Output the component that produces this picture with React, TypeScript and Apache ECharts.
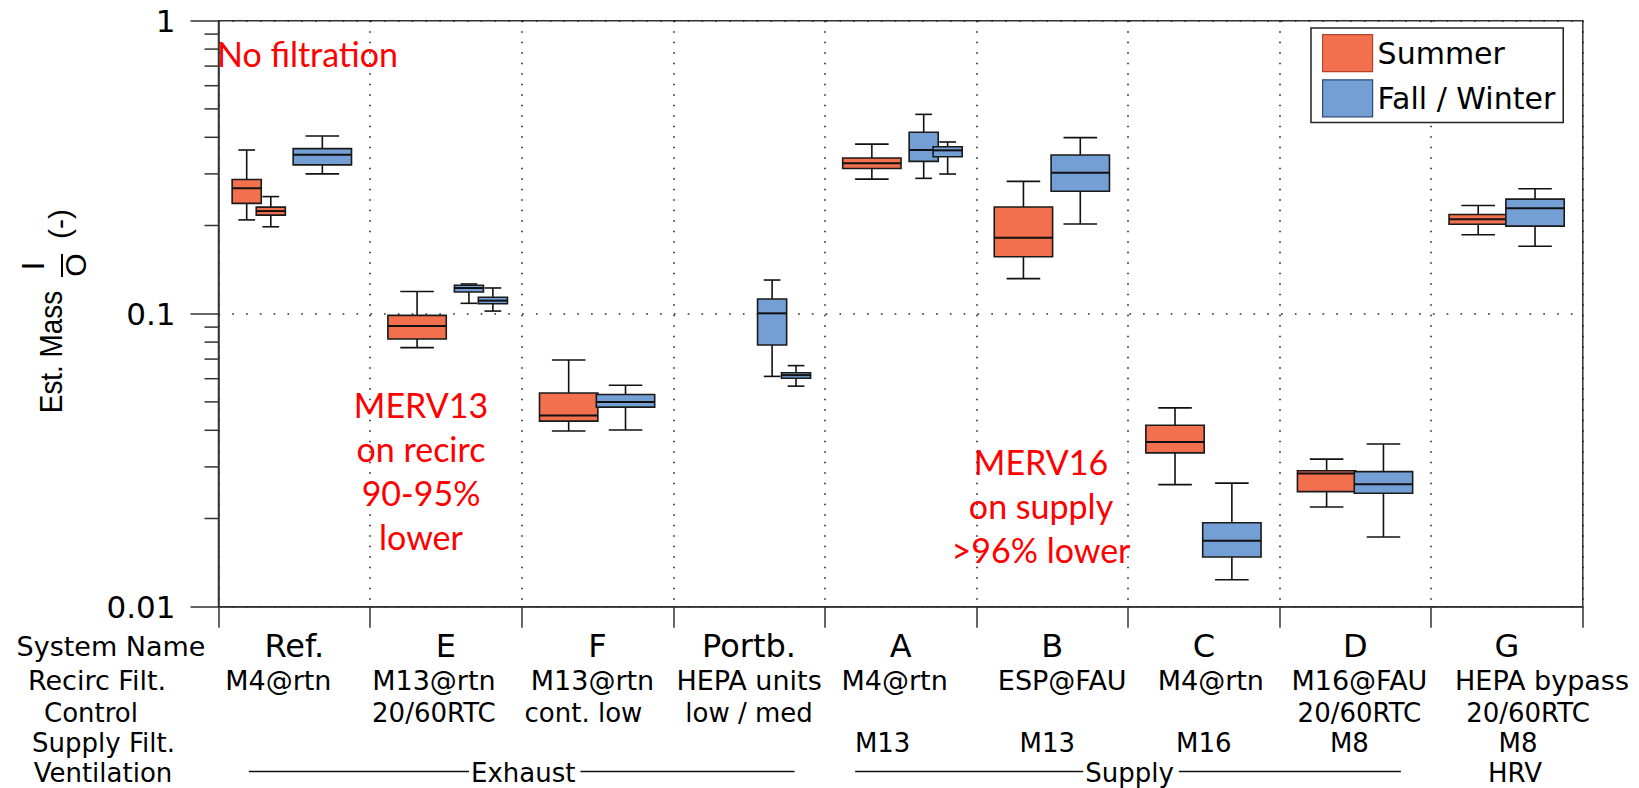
import React, { useEffect, useRef } from "react";
import * as echarts from "echarts";

// ---------------- DATA ----------------
const categories = ["Ref.", "E", "F", "Portb.", "A", "B", "C", "D", "G"];
const recircFilt = ["M4@rtn", "M13@rtn", "M13@rtn", "HEPA units", "M4@rtn", "ESP@FAU", "M4@rtn", "M16@FAU", "HEPA bypass"];
const control = ["", "20/60RTC", "cont. low", "low / med", "", "", "", "20/60RTC", "20/60RTC"];
const supplyFilt = ["", "", "", "", "M13", "M13", "M16", "M8", "M8"];
const rowHeaders = ["System Name", "Recirc Filt.", "Control", "Supply Filt.", "Ventilation"];
const ventilationGroups = [
  { label: "Exhaust", from: 0, to: 3 },
  { label: "Supply", from: 4, to: 7 },
  { label: "HRV", from: 8, to: 8 },
];
const yMin = 0.01;
const yMax = 1;
const minorTickValues = [0.02, 0.03, 0.04, 0.05, 0.06, 0.07, 0.08, 0.09, 0.2, 0.3, 0.4, 0.5, 0.6, 0.7, 0.8, 0.9];

// five-number summaries [lower whisker, Q1, median, Q3, upper whisker], per category
const summerStats: number[][][] = [
  [[0.209, 0.238, 0.268, 0.287, 0.362], [0.198, 0.217, 0.224, 0.231, 0.251]], // Ref.
  [[0.0766, 0.082, 0.0908, 0.0987, 0.119]], // E
  [[0.0398, 0.043, 0.0449, 0.0536, 0.0695]], // F
  [], // Portb.
  [[0.288, 0.313, 0.326, 0.34, 0.379]], // A
  [[0.1317, 0.1565, 0.1817, 0.2313, 0.283]], // B
  [[0.0261, 0.0335, 0.0365, 0.0416, 0.0477]], // C
  [[0.0219, 0.0247, 0.0285, 0.0291, 0.0319]], // D
  [[0.186, 0.202, 0.21, 0.218, 0.234]], // G
];
const winterStats: number[][][] = [
  [[0.3, 0.322, 0.349, 0.366, 0.404]], // Ref.
  [[0.1085, 0.1186, 0.1224, 0.125, 0.1263], [0.1021, 0.1081, 0.1108, 0.1138, 0.1224]], // E
  [[0.0401, 0.048, 0.05, 0.053, 0.057]], // F
  [[0.0611, 0.0782, 0.1003, 0.1122, 0.1303], [0.0566, 0.0602, 0.0617, 0.0629, 0.0665]], // Portb.
  [[0.2897, 0.331, 0.362, 0.416, 0.479], [0.2997, 0.3434, 0.361, 0.3715, 0.3855]], // A
  [[0.2023, 0.2617, 0.303, 0.348, 0.399]], // B
  [[0.01236, 0.01478, 0.0168, 0.01935, 0.0264]], // C
  [[0.0173, 0.0244, 0.0262, 0.0289, 0.0359]], // D
  [[0.17, 0.199, 0.229, 0.246, 0.267]], // G
];

// ---------------- LAYOUT / STYLE ----------------
const W = 1639;
const H = 788;
const GRID = { left: 218.5, right: 56.2, top: 20.7, bottom: 181.3 };
const AXIS_Y = H - GRID.bottom;
const ROW_Y = [646, 680.5, 713, 743, 772.5];
const ROW_FONT = [32, 27, 26, 26, 26];
const HEADER_FONT = [27, 27, 26, 26, 26];
const ROW_HEADER_CX = [111, 97, 91, 103.5, 103];
const ROW_NUDGE = [
  [0, 0, 0, 0, 0, 0, 0, 0, 0],
  [-16, -12, -5, 0, -6, 10, 7, 4, 35],
  [0, -12, -14, 0, 0, 0, 0, 4, 21],
  [0, 0, 0, 0, -18, -5, 0, -6, 11],
  [0, 0, 0, 0, 0, 0, 0, 0, 0],
];
const ORANGE = "#F2704E";
const BLUE = "#739FD5";
const SANS = "DejaVu Sans";
const RED = "#FF0000";
const RED_FONT = 34;

function slot(season: string, count: number, k: number) {
  if (count === 1) return season === "summer" ? { c: 0.31, w: 0.385 } : { c: 0.685, w: 0.385 };
  const cs = season === "summer" ? [0.186, 0.345] : [0.652, 0.81];
  return { c: cs[k], w: 0.192 };
}

function buildData(stats: number[][][], season: string) {
  const out: number[][] = [];
  stats.forEach((list, ci) => {
    list.forEach((s, k) => {
      const l = slot(season, list.length, k);
      out.push([ci, s[0], s[1], s[2], s[3], s[4], l.c, l.w]);
    });
  });
  return out;
}

function boxSeries(name: string, color: string, stats: number[][][], season: string) {
  return {
    type: "custom",
    name,
    xAxisIndex: 0,
    yAxisIndex: 0,
    clip: false,
    encode: { x: 0, y: [1, 5] },
    data: buildData(stats, season),
    itemStyle: { color },
    renderItem: (params: any, api: any) => {
      const cs = params.coordSys;
      const band = cs.width / categories.length;
      const cat = api.value(0);
      const cx = cs.x + cat * band + api.value(6) * band;
      const w = api.value(7) * band;
      const capW = w * 0.575;
      const y = (v: number) => api.coord([cat, v])[1];
      const yLo = y(api.value(1));
      const yQ1 = y(api.value(2));
      const yMed = y(api.value(3));
      const yQ3 = y(api.value(4));
      const yHi = y(api.value(5));
      const ln = { stroke: "#111", lineWidth: 1.6 };
      return {
        type: "group",
        children: [
          { type: "line", shape: { x1: cx, y1: yHi, x2: cx, y2: yQ3 }, style: ln },
          { type: "line", shape: { x1: cx, y1: yQ1, x2: cx, y2: yLo }, style: ln },
          { type: "line", shape: { x1: cx - capW / 2, y1: yHi, x2: cx + capW / 2, y2: yHi }, style: ln },
          { type: "line", shape: { x1: cx - capW / 2, y1: yLo, x2: cx + capW / 2, y2: yLo }, style: ln },
          {
            type: "rect",
            shape: { x: cx - w / 2, y: yQ3, width: w, height: yQ1 - yQ3 },
            style: { fill: color, stroke: "#1a1a1a", lineWidth: 1.6 },
          },
          { type: "line", shape: { x1: cx - w / 2, y1: yMed, x2: cx + w / 2, y2: yMed }, style: { stroke: "#111", lineWidth: 2 } },
        ],
      };
    },
  };
}

function rowAxis(r: number, values: string[] | null) {
  const fontSize = ROW_FONT[r];
  const rich: any = {};
  ROW_NUDGE[r].forEach((n, i) => {
    if (n !== 0) {
      rich["n" + i] = {
        fontSize,
        fontFamily: SANS,
        color: "#000",
        padding: n > 0 ? [0, 0, 0, 2 * n] : [0, -2 * n, 0, 0],
      };
    }
  });
  return {
    type: "category",
    position: "bottom",
    gridIndex: 0,
    data: categories,
    offset: ROW_Y[r] - AXIS_Y,
    axisLine: { show: false },
    axisTick: { show: false },
    splitLine: { show: false },
    axisLabel: {
      show: true,
      interval: 0,
      margin: 0,
      verticalAlign: "middle",
      fontSize,
      fontFamily: SANS,
      color: "#000",
      rich,
      formatter: (_v: string, i: number) => {
        const t = values ? values[i] : "";
        if (!t) return "";
        return ROW_NUDGE[r][i] !== 0 ? `{n${i}|${t}}` : t;
      },
    },
    name: rowHeaders[r],
    nameLocation: "start",
    nameGap: GRID.left - ROW_HEADER_CX[r],
    nameTextStyle: { fontSize: HEADER_FONT[r], fontFamily: SANS, color: "#000", align: "center", verticalAlign: "middle" },
  };
}

function textEl(text: string, x: number, y: number, size: number, family: string, color: string, align: string, valign: string, extra: any = {}) {
  const { style: extraStyle, ...rest } = extra;
  return {
    type: "text",
    x,
    y,
    silent: true,
    z: 100,
    ...rest,
    style: {
      text,
      fontSize: size,
      fontFamily: family,
      fill: color,
      align,
      verticalAlign: valign,
      textAlign: align,
      textVerticalAlign: valign,
      ...(extraStyle || {}),
    },
  };
}

export default function App() {
  const ref = useRef<HTMLDivElement>(null);

  useEffect(() => {
    if (!ref.current) return;
    const chart = echarts.init(ref.current, null, { renderer: "svg" });
    const option: any = {
      animation: false,
      backgroundColor: "#fff",
      grid: {
        left: GRID.left,
        right: GRID.right,
        top: GRID.top,
        bottom: GRID.bottom,
        show: true,
        borderColor: "#333",
        borderWidth: 1.5,
        backgroundColor: "transparent",
      },
      legend: {
        show: true,
        orient: "vertical",
        left: 1311,
        top: 28,
        padding: [6, 8, 5, 11],
        itemWidth: 50,
        itemHeight: 37,
        itemGap: 7,
        selectedMode: false,
        backgroundColor: "#fff",
        borderColor: "#222",
        borderWidth: 1.5,
        icon: "rect",
        textStyle: { fontSize: 30, fontFamily: SANS, color: "#000" },
        data: [
          { name: "Summer", itemStyle: { color: ORANGE, borderColor: "#B5452A", borderWidth: 1.2 } },
          { name: "Fall / Winter", itemStyle: { color: BLUE, borderColor: "#2C4A78", borderWidth: 1.2 } },
        ],
      },
      xAxis: [
        {
          type: "category",
          position: "bottom",
          data: categories,
          boundaryGap: true,
          axisLine: { show: true, lineStyle: { color: "#333", width: 1.5 } },
          axisTick: { show: true, interval: 0, length: 21, lineStyle: { color: "#333", width: 1.5 } },
          axisLabel: { show: false },
          splitLine: { show: true, interval: 0, lineStyle: { color: "#222", width: 1.6, type: [1.6, 8.9] } },
        },
        rowAxis(0, categories),
        rowAxis(1, recircFilt),
        rowAxis(2, control),
        rowAxis(3, supplyFilt),
        rowAxis(4, null),
      ],
      yAxis: {
        type: "log",
        logBase: 10,
        min: yMin,
        max: yMax,
        axisLine: { show: true, lineStyle: { color: "#333", width: 1.5 } },
        axisTick: { show: true, length: 28, lineStyle: { color: "#333", width: 1.5 } },
        axisLabel: {
          show: true,
          margin: 43,
          fontSize: 31,
          fontFamily: SANS,
          color: "#000",
          showMinLabel: true,
          showMaxLabel: true,
          formatter: (v: number) => String(v),
        },
        splitLine: { show: true, lineStyle: { color: "#222", width: 1.6, type: [1.6, 12.2] } },
      },
      series: [
        {
          type: "custom",
          silent: true,
          clip: false,
          xAxisIndex: 0,
          yAxisIndex: 0,
          encode: { x: 0, y: 1 },
          data: minorTickValues.map((v) => [0, v]),
          renderItem: (params: any, api: any) => {
            const cs = params.coordSys;
            const y = api.coord([0, api.value(1)])[1];
            return { type: "line", shape: { x1: cs.x - 14, y1: y, x2: cs.x, y2: y }, style: { stroke: "#333", lineWidth: 1.5 } };
          },
        },
        boxSeries("Summer", ORANGE, summerStats, "summer"),
        boxSeries("Fall / Winter", BLUE, winterStats, "winter"),
      ],
    };
    chart.setOption(option);

    // graphic elements positioned from the library's own axis scale
    const px = (i: number) => chart.convertToPixel({ xAxisIndex: 0 }, i) as number;
    const band = px(1) - px(0);
    const vy = ROW_Y[4];
    const vFont = ROW_FONT[4];
    const graphics: any[] = [];
    ventilationGroups.forEach((g) => {
      const mid = (px(g.from) + px(g.to)) / 2;
      if (g.from !== g.to) {
        const inset = band * 0.2;
        const x1 = px(g.from) - band / 2 + inset;
        const x2 = px(g.to) + band / 2 - inset;
        graphics.push({
          type: "line",
          silent: true,
          z: 99,
          shape: { x1, y1: vy - 1, x2, y2: vy - 1 },
          style: { stroke: "#111", lineWidth: 1.4 },
        });
        graphics.push(
          textEl(g.label, mid + 3, vy, vFont, SANS, "#000", "center", "middle", {
            style: { backgroundColor: "#fff", padding: [0, 5, 0, 2] },
          })
        );
      } else {
        graphics.push(textEl(g.label, mid + 8, vy, vFont, SANS, "#000", "center", "middle"));
      }
    });

    // y-axis title: Est. Mass  I/O (-)
    graphics.push(
      textEl("Est. Mass", 51, 352, 31, "Liberation Sans", "#000", "center", "middle", { rotation: Math.PI / 2, scaleX: 0.9 })
    );
    graphics.push(textEl("I", 33, 266, 31, "Liberation Sans", "#000", "center", "middle", { rotation: Math.PI / 2 }));
    graphics.push({
      type: "line",
      silent: true,
      z: 100,
      shape: { x1: 62, y1: 254, x2: 62, y2: 277 },
      style: { stroke: "#000", lineWidth: 2 },
    });
    graphics.push(textEl("O", 75, 265, 30, "Liberation Sans", "#000", "center", "middle", { rotation: Math.PI / 2 }));
    graphics.push(textEl("(-)", 59, 224, 30, "Liberation Sans", "#000", "center", "middle", { rotation: Math.PI / 2 }));

    // red annotations
    graphics.push(textEl("No filtration", 217, 53, RED_FONT, "Lato", RED, "left", "middle"));
    graphics.push(
      textEl("MERV13\non recirc\n90-95%\nlower", 421, 382, RED_FONT, "Lato", RED, "center", "top", { style: { lineHeight: 44 } })
    );
    graphics.push(
      textEl("MERV16\non supply\n>96% lower", 1041, 439, RED_FONT, "Lato", RED, "center", "top", { style: { lineHeight: 44 } })
    );

    chart.setOption({ graphic: graphics });

    return () => chart.dispose();
  }, []);

  return <div ref={ref} style={{ position: "fixed", left: 0, top: 0, width: W, height: H, background: "#fff" }} />;
}
